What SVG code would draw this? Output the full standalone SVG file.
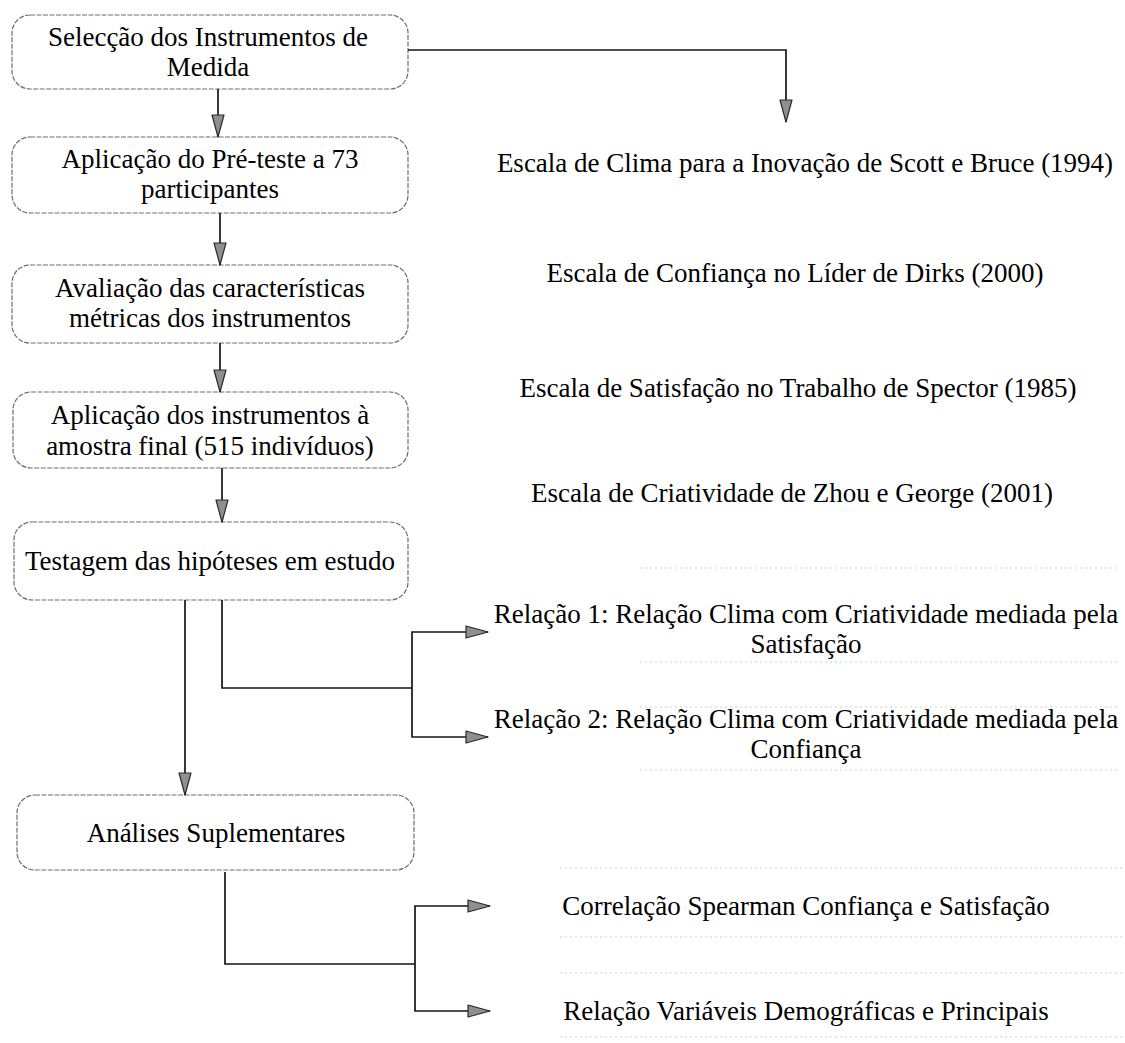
<svg xmlns="http://www.w3.org/2000/svg" width="1125" height="1043" viewBox="0 0 1125 1043">
  <style>
    .box { fill: #ffffff; stroke: #6e6e6e; stroke-width: 1.2; stroke-dasharray: 5 1.5; }
    .lbl { font-family: "Liberation Serif", "Times New Roman", serif; font-size: 27px; fill: #000; text-anchor: middle; }
    .wire { fill: none; stroke: #151515; stroke-width: 1.7; }
    .frame { fill: none; stroke: #cfcfcf; stroke-width: 1; stroke-dasharray: 2 3; }
  </style>
  <defs>
    <marker id="head" viewBox="0 0 24 14" refX="23" refY="7" markerWidth="24" markerHeight="14" orient="auto" markerUnits="userSpaceOnUse">
      <path d="M1,1 L23,7 L1,13 Z" fill="#8f8f8f" stroke="#2a2a2a" stroke-width="1.2" stroke-linejoin="round"/>
    </marker>
  </defs>
  <rect width="1125" height="1043" fill="#ffffff"/>

  <!-- process steps (left column) -->
  <g id="step-selecao">
    <rect class="box" x="12" y="15" width="396" height="74" rx="18"/>
    <text class="lbl" x="208" y="46">Selecção dos Instrumentos de</text>
    <text class="lbl" x="208" y="76">Medida</text>
  </g>
  <g id="step-preteste">
    <rect class="box" x="12" y="137" width="396" height="76" rx="18"/>
    <text class="lbl" x="210" y="168">Aplicação do Pré-teste a 73</text>
    <text class="lbl" x="210" y="198">participantes</text>
  </g>
  <g id="step-avaliacao">
    <rect class="box" x="12" y="265" width="396" height="78" rx="18"/>
    <text class="lbl" x="210" y="297">Avaliação das características</text>
    <text class="lbl" x="210" y="327">métricas dos instrumentos</text>
  </g>
  <g id="step-aplicacao">
    <rect class="box" x="13" y="392" width="395" height="76" rx="18"/>
    <text class="lbl" x="210" y="424">Aplicação dos instrumentos à</text>
    <text class="lbl" x="210" y="455">amostra final (515 indivíduos)</text>
  </g>
  <g id="step-testagem">
    <rect class="box" x="14" y="522" width="394" height="78" rx="18"/>
    <text class="lbl" x="210" y="570">Testagem das hipóteses em estudo</text>
  </g>
  <g id="step-analises">
    <rect class="box" x="17" y="795" width="397" height="75" rx="18"/>
    <text class="lbl" x="216" y="842">Análises Suplementares</text>
  </g>

  <!-- instruments (right column) -->
  <g id="escala-clima">
    <text class="lbl" x="805" y="172">Escala de Clima para a Inovação de Scott e Bruce (1994)</text>
  </g>
  <g id="escala-confianca">
    <text class="lbl" x="795" y="282">Escala de Confiança no Líder de Dirks (2000)</text>
  </g>
  <g id="escala-satisfacao">
    <text class="lbl" x="798" y="397">Escala de Satisfação no Trabalho de Spector (1985)</text>
  </g>
  <g id="escala-criatividade">
    <text class="lbl" x="792" y="502">Escala de Criatividade de Zhou e George (2001)</text>
  </g>

  <!-- hypotheses -->
  <g id="relacao-1">
    <line class="frame" x1="640" y1="568" x2="1120" y2="568"/>
    <line class="frame" x1="640" y1="662" x2="1120" y2="662"/>
    <text class="lbl" x="806" y="623">Relação 1: Relação Clima com Criatividade mediada pela</text>
    <text class="lbl" x="806" y="653">Satisfação</text>
  </g>
  <g id="relacao-2">
    <line class="frame" x1="640" y1="707" x2="1120" y2="707"/>
    <line class="frame" x1="640" y1="770" x2="1120" y2="770"/>
    <text class="lbl" x="806" y="728">Relação 2: Relação Clima com Criatividade mediada pela</text>
    <text class="lbl" x="806" y="758">Confiança</text>
  </g>

  <!-- supplementary analyses -->
  <g id="correlacao">
    <line class="frame" x1="560" y1="868" x2="1122" y2="868"/>
    <line class="frame" x1="560" y1="937" x2="1122" y2="937"/>
    <text class="lbl" x="806" y="915">Correlação Spearman Confiança e Satisfação</text>
  </g>
  <g id="demograficas">
    <line class="frame" x1="560" y1="973" x2="1122" y2="973"/>
    <line class="frame" x1="560" y1="1037" x2="1122" y2="1037"/>
    <text class="lbl" x="806" y="1020">Relação Variáveis Demográficas e Principais</text>
  </g>

  <!-- connectors -->
  <g id="connectors">
    <path class="wire" d="M408,50 H786 V122" marker-end="url(#head)"/>
    <path class="wire" d="M218,89 V137" marker-end="url(#head)"/>
    <path class="wire" d="M220,213 V265" marker-end="url(#head)"/>
    <path class="wire" d="M220,343 V392" marker-end="url(#head)"/>
    <path class="wire" d="M222,468 V522" marker-end="url(#head)"/>
    <path class="wire" d="M185,600 V795" marker-end="url(#head)"/>
    <path class="wire" d="M222,600 V688 H412"/>
    <path class="wire" d="M412,688 V632 H488" marker-end="url(#head)"/>
    <path class="wire" d="M412,688 V737 H488" marker-end="url(#head)"/>
    <path class="wire" d="M225,872 V964 H415"/>
    <path class="wire" d="M415,964 V906 H490" marker-end="url(#head)"/>
    <path class="wire" d="M415,964 V1011 H490" marker-end="url(#head)"/>
  </g>
</svg>
